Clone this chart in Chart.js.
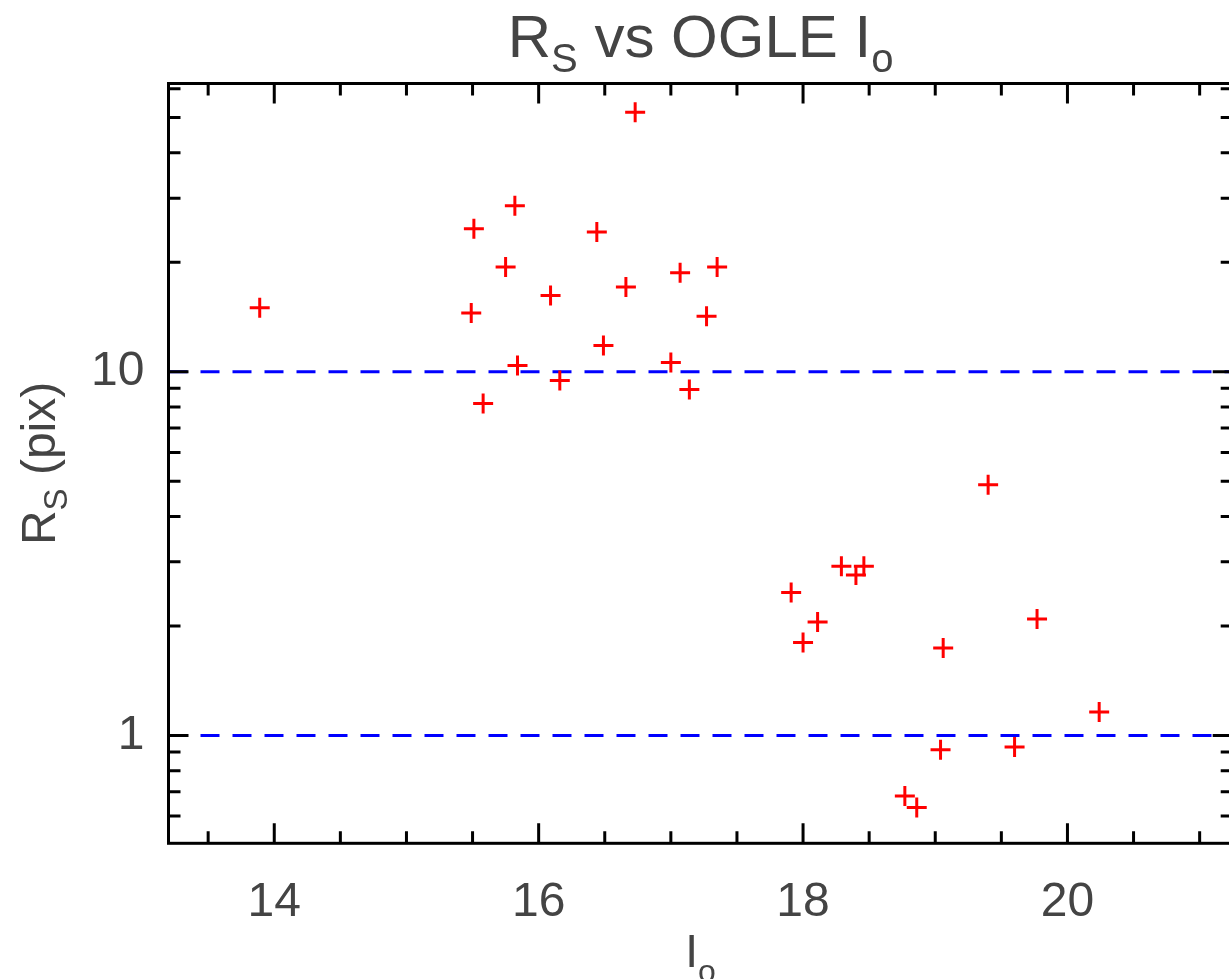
<!DOCTYPE html>
<html>
<head>
<meta charset="utf-8">
<script src="https://cdn.jsdelivr.net/npm/chart.js@4.4.0/dist/chart.umd.min.js"></script>
<style>
  html, body { margin: 0; padding: 0; background: #fff; overflow: hidden; }
  canvas { display: block; }
</style>
</head>
<body>
<canvas id="rsPlot" width="1229" height="979"></canvas>
<script>
// OGLE I_o of each source, and its measured R_S (pix)
const iMag = [16.73, 15.82, 15.51, 16.44, 15.75, 17.35, 17.07, 16.66, 16.09, 13.89, 15.49,
              17.27, 16.49, 15.84, 17.00, 16.16, 17.14, 15.58, 19.40, 18.29, 18.46, 18.40,
              17.91, 19.77, 18.11, 18.00, 19.06, 20.24, 19.04, 19.60, 18.77, 18.86];
const rsPix = [51.7, 28.6, 24.7, 24.2, 19.4, 19.4, 18.7, 17.1, 16.2, 15.0, 14.5,
               14.2, 11.8, 10.4, 10.6, 9.46, 8.94, 8.18, 4.89, 2.92, 2.92, 2.76,
               2.47, 2.09, 2.05, 1.80, 1.74, 1.16, 0.913, 0.929, 0.681, 0.633];

// horizontal dashed reference levels
const refLevels = [10, 1];

// axis ranges and ticks
const xMin = 13.2, xMax = 21.25;
const yMin = 0.505, yMax = 62;
const xMajorTicks = [14, 16, 18, 20];
const xMinorTicks = [13.5, 14.5, 15, 15.5, 16.5, 17, 17.5, 18.5, 19, 19.5, 20.5, 21];
const yMajorTicks = [1, 10];
const yMinorTicks = [0.6, 0.7, 0.8, 0.9, 2, 3, 4, 5, 6, 7, 8, 9, 20, 30, 40, 50, 60];

const FONT = '"Liberation Sans", Arial, sans-serif';
const TEXT = '#444';

// text pieces with subscripts: [text, size, baseline shift]
const titleRuns = [['R', 60, 0], ['S', 40, 15], [' vs OGLE I', 60, 0], ['o', 40, 15]];
const yTitleRuns = [['R', 48, 0], ['S', 33, 12], [' (pix)', 48, 0]];
const xTitleRuns = [['I', 46, 0], ['o', 32, 15]];

function drawRuns(ctx, runs, cx, baseY) {
  let total = 0;
  const w = runs.map(r => {
    ctx.font = r[1] + 'px ' + FONT;
    const m = ctx.measureText(r[0]).width;
    total += m;
    return m;
  });
  let x = cx - total / 2;
  runs.forEach((r, i) => {
    ctx.font = r[1] + 'px ' + FONT;
    ctx.fillText(r[0], x, baseY + r[2]);
    x += w[i];
  });
}

// the right-hand axis of the original sits just past the picture's edge
const widenRight = {
  id: 'widenRight',
  afterLayout(chart) {
    const x = chart.scales.x;
    chart.chartArea.right = 1232.7;
    chart.chartArea.width = chart.chartArea.right - chart.chartArea.left;
    x.right = 1232.7;
    x.width = x.right - x.left;
    x.configure();
  }
};

const frameAndText = {
  id: 'frameAndText',
  afterDraw(chart) {
    const { ctx, chartArea: a, scales: { x, y } } = chart;
    ctx.save();
    ctx.strokeStyle = '#000';
    ctx.lineWidth = 3;
    ctx.lineCap = 'butt';
    ctx.strokeRect(a.left, a.top, a.right - a.left, a.bottom - a.top);

    ctx.beginPath();
    const xt = (vals, len) => vals.forEach(v => {
      const p = x.getPixelForValue(v);
      ctx.moveTo(p, a.bottom); ctx.lineTo(p, a.bottom - len);
      ctx.moveTo(p, a.top); ctx.lineTo(p, a.top + len);
    });
    const yt = (vals, len) => vals.forEach(v => {
      const p = y.getPixelForValue(v);
      ctx.moveTo(a.left, p); ctx.lineTo(a.left + len, p);
      ctx.moveTo(a.right, p); ctx.lineTo(a.right - len, p);
    });
    xt(xMajorTicks, 20); xt(xMinorTicks, 12);
    yt(yMajorTicks, 20); yt(yMinorTicks, 12);
    ctx.stroke();

    ctx.fillStyle = TEXT;
    ctx.textAlign = 'left';
    ctx.textBaseline = 'alphabetic';
    const cx = (a.left + a.right) / 2;
    const cy = (a.top + a.bottom) / 2;
    drawRuns(ctx, titleRuns, cx, 57);
    drawRuns(ctx, xTitleRuns, cx, 967);
    ctx.translate(55, cy);
    ctx.rotate(-Math.PI / 2);
    drawRuns(ctx, yTitleRuns, 0, 0);
    ctx.restore();
  }
};

const lineSets = refLevels.map(v => ({
  type: 'line',
  data: [{ x: xMin, y: v }, { x: xMax, y: v }],
  borderColor: '#0000ff',
  borderWidth: 3,
  borderDash: [19, 13],
  pointRadius: 0,
  fill: false
}));

new Chart(document.getElementById('rsPlot'), {
  type: 'scatter',
  data: {
    datasets: [{
      label: 'R_S',
      data: iMag.map((m, i) => ({ x: m, y: rsPix[i] })),
      pointStyle: 'cross',
      pointRadius: 10,
      pointHoverRadius: 10,
      borderColor: '#ff0000',
      backgroundColor: '#ff0000',
      borderWidth: 3
    }, ...lineSets]
  },
  options: {
    responsive: false,
    animation: false,
    layout: { padding: { left: 0, right: 0, top: 83.5, bottom: 0 } },
    plugins: { legend: { display: false }, tooltip: { enabled: false }, title: { display: false } },
    scales: {
      x: {
        type: 'linear', min: xMin, max: xMax,
        grid: { display: false }, border: { display: false },
        afterBuildTicks: s => { s.ticks = xMajorTicks.map(v => ({ value: v })); },
        afterFit: s => { s.height = 135.7; },
        ticks: { color: TEXT, font: { family: FONT, size: 48, lineHeight: 1.2 }, padding: 23,
                 maxRotation: 0, autoSkip: false, callback: v => String(v) }
      },
      y: {
        type: 'logarithmic', min: yMin, max: yMax,
        grid: { display: false }, border: { display: false },
        afterBuildTicks: s => { s.ticks = yMajorTicks.map(v => ({ value: v })); },
        afterFit: s => { s.width = 168.5; },
        ticks: { color: TEXT, font: { family: FONT, size: 48, lineHeight: 1.2 }, padding: 16,
                 autoSkip: false, callback: v => String(v) }
      }
    }
  },
  plugins: [widenRight, frameAndText]
});
</script>
</body>
</html>
